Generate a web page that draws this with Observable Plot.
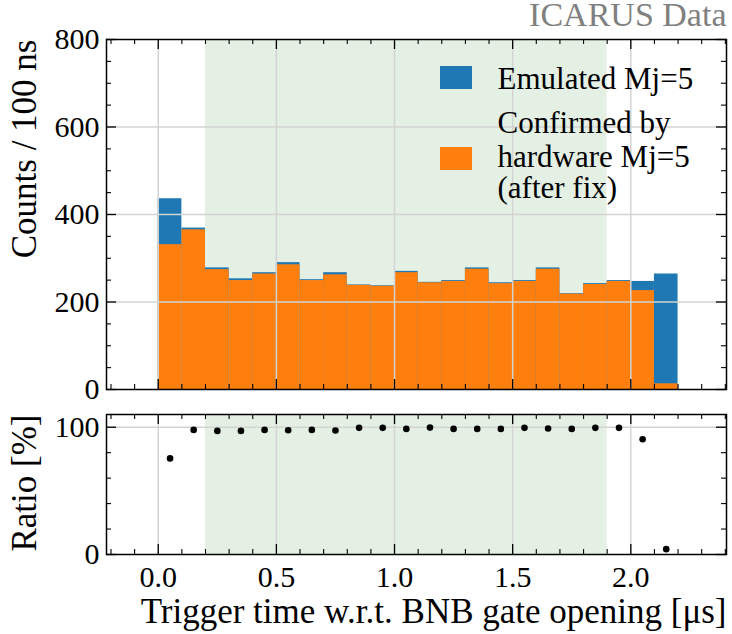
<!DOCTYPE html>
<!-- revision 7: serif text forced on every text node -->
<html>
<head>
<meta charset="utf-8">
<script src="https://cdn.jsdelivr.net/npm/d3@7"></script>
<script src="https://cdn.jsdelivr.net/npm/@observablehq/plot@0.6"></script>
<style>
  body { margin: 0; background: #fff; font-family: 'Liberation Serif'; }
  #wrap { position: relative; width: 732px; height: 634px; font-family: 'Liberation Serif'; }
  svg text, svg tspan { font-family: 'Liberation Serif' !important; }
  #top, #bot { position: absolute; left: 0; }
  #top { top: 0; }
  #bot { top: 400px; }
  .sw { position: absolute; width: 32px; height: 23px; }
</style>
</head>
<body>
<div id="wrap">
  <div id="top"></div>
  <div id="bot"></div>
  <div class="sw" style="left:440px;top:66px;background:#1f77b4"></div>
  <div class="sw" style="left:440px;top:147px;background:#ff7f0e"></div>
</div>
<script>
// ---- data ----
const binStart = [0.0, 0.1, 0.2, 0.3, 0.4, 0.5, 0.6, 0.7, 0.8, 0.9, 1.0, 1.1, 1.2, 1.3, 1.4, 1.5, 1.6, 1.7, 1.8, 1.9, 2.0, 2.1];
const binEnd   = [0.1, 0.2, 0.3, 0.4, 0.5, 0.6, 0.7, 0.8, 0.9, 1.0, 1.1, 1.2, 1.3, 1.4, 1.5, 1.6, 1.7, 1.8, 1.9, 2.0, 2.1, 2.2];
const emulated  = [436, 369, 278, 253, 267, 290, 251, 267, 239, 237, 270, 245, 249, 278, 244, 249, 278, 219, 242, 249, 247, 264];
const confirmed = [331, 365, 274, 249, 264, 285, 249, 262, 238, 236, 267, 244, 247, 275, 242, 247, 275, 218, 240, 247, 226, 13];
const ratio     = [75.5, 97.9, 97.1, 97.1, 97.9, 97.6, 97.9, 97.4, 99.5, 99.5, 98.7, 99.7, 98.7, 98.7, 98.7, 99.5, 99.0, 98.7, 99.5, 99.5, 90.6, 4.2];

const gateWindow = [{start: 0.2, end: 1.9}];

const xMajorTicks = [0.0, 0.5, 1.0, 1.5, 2.0];
const xMinorTicks = [-0.2, -0.1, 0.1, 0.2, 0.3, 0.4, 0.6, 0.7, 0.8, 0.9, 1.1, 1.2, 1.3, 1.4, 1.6, 1.7, 1.8, 1.9, 2.1, 2.2, 2.3, 2.4];
const countTicks = [0, 200, 400, 600, 800];
const countMinor = [50, 100, 150, 250, 300, 350, 450, 500, 550, 650, 700, 750];
const countGrid = [200, 400, 600];
const ratioTicks = [0, 100];
const ratioMinor = [20, 40, 60, 80];
const ratioGrid = [100];

const seriesLabels = ["Emulated Mj=5", "Confirmed by", "hardware Mj=5", "(after fix)"];
const topTitle = "ICARUS Data";
const xLabel = "Trigger time w.r.t. BNB gate opening [\u03bcs]";
const yLabelTop = "Counts / 100 ns";
const yLabelBottom = "Ratio [%]";

// ---- table built from the arrays ----
const bins = binStart.map((s, i) => ({x0: s, x1: binEnd[i], emulated: emulated[i], confirmed: confirmed[i], ratio: ratio[i]}));

const xDomain = [-0.219, 2.405];
const W = 732, ML = 106, MR = 6;
const FW = W - ML - MR;
const FONT = "Liberation Serif";
const GRID = "#d3d3d3";
const GREEN = "#e5f0e5";

function tickMarks(H, major, minor, axis) {
  const marks = [];
  if (axis === "x") {
    marks.push(Plot.ruleX(major, {stroke: "black", strokeWidth: 1.3, insetTop: H - 10}));
    marks.push(Plot.ruleX(major, {stroke: "black", strokeWidth: 1.3, insetBottom: H - 10}));
    marks.push(Plot.ruleX(minor, {stroke: "black", strokeWidth: 1.1, insetTop: H - 5}));
    marks.push(Plot.ruleX(minor, {stroke: "black", strokeWidth: 1.1, insetBottom: H - 5}));
  } else {
    marks.push(Plot.ruleY(major, {stroke: "black", strokeWidth: 1.3, insetRight: FW - 10}));
    marks.push(Plot.ruleY(major, {stroke: "black", strokeWidth: 1.3, insetLeft: FW - 10}));
    marks.push(Plot.ruleY(minor, {stroke: "black", strokeWidth: 1.1, insetRight: FW - 5}));
    marks.push(Plot.ruleY(minor, {stroke: "black", strokeWidth: 1.1, insetLeft: FW - 5}));
  }
  return marks;
}

function forceSerif(svg) {
  svg.setAttribute("font-family", FONT);
  svg.querySelectorAll("g, text, tspan").forEach(el => {
    el.setAttribute("font-family", FONT);
    el.style.fontFamily = "'Liberation Serif'";
  });
  return svg;
}

// ---- top panel ----
const topH = 400, topMT = 39, topMB = 11;
const topFH = topH - topMT - topMB;
const topPlot = Plot.plot({
  width: W, height: topH,
  marginLeft: ML, marginRight: MR, marginTop: topMT, marginBottom: topMB,
  style: {fontFamily: "'Liberation Serif'", fontSize: "29px", color: "black", background: "white", overflow: "visible"},
  x: {domain: xDomain, axis: null},
  y: {domain: [0, 800]},
  marks: [
    Plot.rectX(gateWindow, {x1: "start", x2: "end", fill: GREEN}),
    Plot.rectY(bins, {x1: "x0", x2: "x1", y: "emulated", fill: "#1f77b4"}),
    Plot.rectY(bins, {x1: "x0", x2: "x1", y: "confirmed", fill: "#ff7f0e"}),
    Plot.gridX(xMajorTicks, {stroke: GRID, strokeOpacity: 1, strokeWidth: 1.5}),
    Plot.gridY(countGrid, {stroke: GRID, strokeOpacity: 1, strokeWidth: 1.5}),
    ...tickMarks(topFH, xMajorTicks, xMinorTicks, "x"),
    ...tickMarks(topFH, countTicks, countMinor, "y"),
    Plot.frame({stroke: "black", strokeWidth: 1.5}),
    Plot.axisY(countTicks, {tickSize: 0, tickPadding: 7, label: null, fontSize: 30, fontFamily: FONT}),
    Plot.text([yLabelTop], {frameAnchor: "top-left", rotate: -90, textAnchor: "end", lineAnchor: "bottom", dx: -71, fontSize: 35, fontFamily: FONT}),
    Plot.text([topTitle], {frameAnchor: "top-right", textAnchor: "end", lineAnchor: "bottom", dy: -14, fontSize: 34, fill: "#808080", fontFamily: FONT}),
    Plot.text([seriesLabels[0]], {frameAnchor: "top-left", textAnchor: "start", lineAnchor: "bottom", dx: 391, dy: 49, fontSize: 31, fontFamily: FONT}),
    Plot.text([seriesLabels[1]], {frameAnchor: "top-left", textAnchor: "start", lineAnchor: "bottom", dx: 391, dy: 93, fontSize: 31, fontFamily: FONT}),
    Plot.text([seriesLabels[2]], {frameAnchor: "top-left", textAnchor: "start", lineAnchor: "bottom", dx: 391, dy: 127, fontSize: 31, fontFamily: FONT}),
    Plot.text([seriesLabels[3]], {frameAnchor: "top-left", textAnchor: "start", lineAnchor: "bottom", dx: 391, dy: 158, fontSize: 31, fontFamily: FONT})
  ]
});
document.getElementById("top").appendChild(forceSerif(topPlot));

// ---- bottom (ratio) panel ----
const botH = 234, botMT = 14, botMB = 80;
const botFH = botH - botMT - botMB;
const botPlot = Plot.plot({
  width: W, height: botH,
  marginLeft: ML, marginRight: MR, marginTop: botMT, marginBottom: botMB,
  style: {fontFamily: "'Liberation Serif'", fontSize: "29px", color: "black", background: "transparent", overflow: "visible"},
  x: {domain: xDomain},
  y: {domain: [0, 110]},
  marks: [
    Plot.rectX(gateWindow, {x1: "start", x2: "end", fill: GREEN}),
    Plot.gridX(xMajorTicks, {stroke: GRID, strokeOpacity: 1, strokeWidth: 1.5}),
    Plot.gridY(ratioGrid, {stroke: GRID, strokeOpacity: 1, strokeWidth: 1.5}),
    Plot.dot(bins, {x: d => (d.x0 + d.x1) / 2, y: "ratio", r: 3.3, fill: "black", stroke: null}),
    ...tickMarks(botFH, xMajorTicks, xMinorTicks, "x"),
    ...tickMarks(botFH, ratioTicks, ratioMinor, "y"),
    Plot.frame({stroke: "black", strokeWidth: 1.5}),
    Plot.axisY(ratioTicks, {tickSize: 0, tickPadding: 7, label: null, fontSize: 30, fontFamily: FONT}),
    Plot.axisX(xMajorTicks, {tickSize: 0, tickPadding: 11, label: null, tickFormat: d3.format(".1f"), fontSize: 30, fontFamily: FONT}),
    Plot.text([yLabelBottom], {frameAnchor: "top-left", rotate: -90, textAnchor: "end", lineAnchor: "bottom", dx: -71, fontSize: 35, fontFamily: FONT}),
    Plot.text([xLabel], {frameAnchor: "bottom-right", textAnchor: "end", lineAnchor: "bottom", dy: 68, fontSize: 35, fontFamily: FONT})
  ]
});
document.getElementById("bot").appendChild(forceSerif(botPlot));
</script>
</body>
</html>
